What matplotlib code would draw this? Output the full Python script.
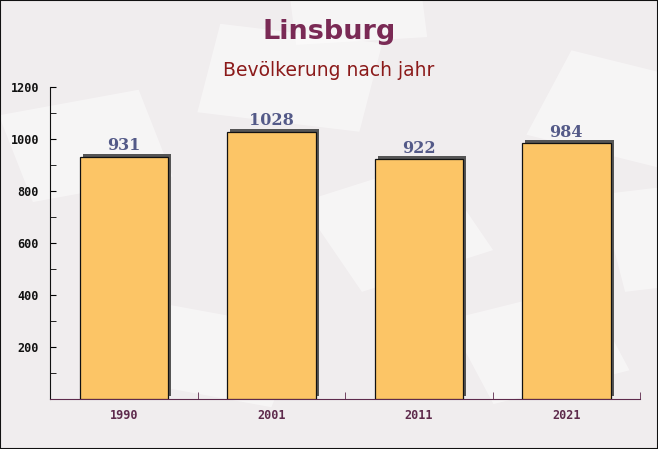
import matplotlib
matplotlib.use("Agg")
import matplotlib.pyplot as plt
import matplotlib.patheffects as pe
from matplotlib.patches import Rectangle
from matplotlib.ticker import MultipleLocator

TITLE = "Linsburg"
SUBTITLE = "Bevölkerung nach jahr"
years = ["1990", "2001", "2011", "2021"]
population = [931, 1028, 922, 984]

fig = plt.figure(figsize=(6.58, 4.49), dpi=100)
fig.patch.set_facecolor("#f0edee")

# faint envelope-like background shapes on a back layer
bg = fig.add_axes([0, 0, 1, 1], zorder=-10)
bg.set_xlim(0, 1)
bg.set_ylim(0, 1)
bg.axis("off")
for (cx, cy, w, h, ang) in [(0.05, 0.55, 0.22, 0.2, 15), (0.3, 0.75, 0.25, 0.2, -10),
                            (0.55, 0.35, 0.22, 0.22, 25), (0.8, 0.7, 0.25, 0.2, -20),
                            (0.2, 0.15, 0.22, 0.18, -15), (0.75, 0.1, 0.22, 0.2, 20),
                            (0.45, 0.9, 0.2, 0.12, 5), (0.95, 0.35, 0.18, 0.22, 10)]:
    bg.add_patch(Rectangle((cx, cy), w, h, angle=ang, facecolor="white",
                           alpha=0.45, edgecolor="none"))

ax = fig.add_axes([50 / 658, 50 / 449, 590 / 658, 312 / 449])
ax.patch.set_alpha(0.0)

x = list(range(len(years)))
bars = ax.bar(x, population, width=0.6, color="#fcc566",
              edgecolor="#111111", linewidth=0.9, zorder=3)
for b in bars:
    b.set_path_effects([pe.SimplePatchShadow(offset=(2.2, 2.2), shadow_rgbFace="#555555", alpha=1.0),
                        pe.Normal()])

for xi, v in zip(x, population):
    ax.text(xi, v + 10, str(v), ha="center", va="bottom", family="DejaVu Serif",
            fontweight="bold", fontsize=11.5, color="#545a88", zorder=4)

ax.set_xlim(-0.5, len(years) - 0.5)
ax.set_ylim(0, 1200)
ax.set_xticks(x)
ax.set_xticklabels(years)
ax.set_xticks([i + 0.5 for i in x], minor=True)
ax.yaxis.set_minor_locator(MultipleLocator(100))
ax.set_yticks([200, 400, 600, 800, 1000, 1200])

ax.tick_params(axis="x", which="major", length=0, pad=7, labelsize=8.5, labelcolor="#5e2a4c")
ax.tick_params(axis="x", which="minor", direction="in", length=5, color="#5e2a4c")
ax.tick_params(axis="y", which="both", direction="in", length=4, labelsize=8.5, labelcolor="#111111", pad=8)
for lab in ax.get_xticklabels() + ax.get_yticklabels():
    lab.set_family("DejaVu Sans Mono")
    lab.set_fontweight("bold")

for s in ["top", "right"]:
    ax.spines[s].set_visible(False)
ax.spines["left"].set_color("#111111")
ax.spines["bottom"].set_color("#5e2a4c")

fig.text(0.5, 1 - 32 / 449, TITLE, ha="center", va="center", fontsize=19.5,
         fontweight="bold", color="#7a2a55")
fig.text(0.5, 1 - 70 / 449, SUBTITLE, ha="center", va="center", fontsize=13.5,
         color="#8b1a1a")

fig.patches.append(Rectangle((0, 0), 1, 1, transform=fig.transFigure, fill=False,
                             edgecolor="#111111", linewidth=1.5))

fig.savefig("out.png", dpi=100, facecolor=fig.get_facecolor())
